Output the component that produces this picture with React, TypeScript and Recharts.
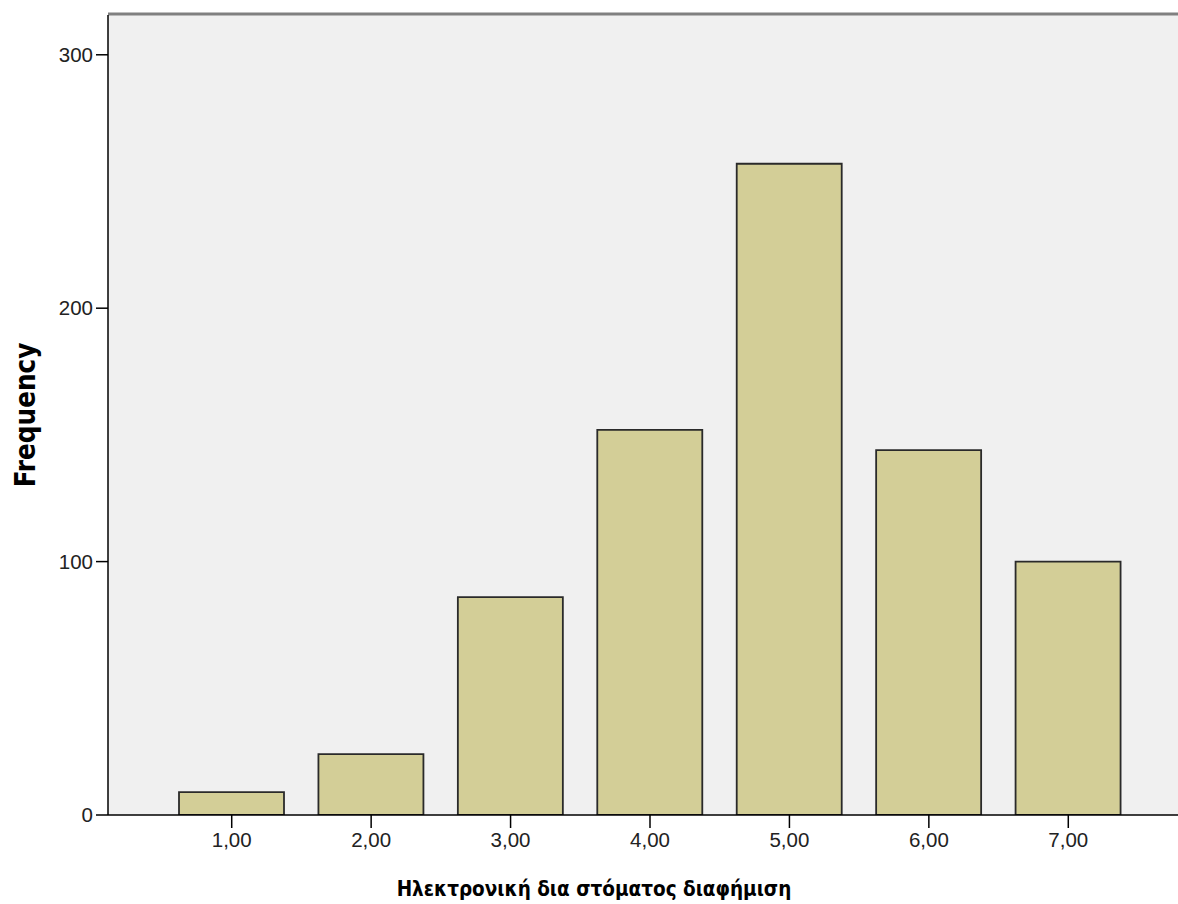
import React from "react";
import { BarChart, Bar, XAxis, YAxis, Label } from "recharts";

const categories = ["1,00", "2,00", "3,00", "4,00", "5,00", "6,00", "7,00"];
const frequencies = [9, 24, 86, 152, 257, 144, 100];
const yTicks = [0, 100, 200, 300];
const xTitle = "Ηλεκτρονική δια στόματος διαφήμιση";
const yTitle = "Frequency";

const data = categories.map((c, i) => ({ name: c, value: frequencies[i] }));

const XTitle = () => (
  <text
    x={594}
    y={896}
    textAnchor="middle"
    fontFamily="'DejaVu Sans Condensed', 'DejaVu Sans'"
    fontWeight="bold"
    fontSize={20.5}
    fill="#000"
  >
    {xTitle}
  </text>
);

const YTitle = (props: any) => {
  const vb = props.viewBox || {};
  const cx = 35;
  const cy = vb.y + vb.height / 2;
  return (
    <text
      x={cx}
      y={cy}
      transform={`rotate(-90, ${cx}, ${cy})`}
      textAnchor="middle"
      fontFamily="'DejaVu Sans Condensed', 'DejaVu Sans'"
      fontWeight="bold"
      fontSize={27.5}
      fill="#000"
    >
      {yTitle}
    </text>
  );
};

export default function App() {
  return (
    <div
      style={{
        position: "absolute",
        left: 0,
        top: 0,
        width: 1178,
        height: 904,
        overflow: "hidden",
        background: "#fff",
      }}
    >
      <BarChart
        width={1192}
        height={904}
        data={data}
        margin={{ top: 15, right: 0, bottom: 0, left: 0 }}
        barCategoryGap={17}
      >
        <rect x={108} y={15} width={1084} height={800} fill="#f0f0f0" />
        <line x1={108} y1={14} x2={1192} y2={14} stroke="#808080" strokeWidth={3} />
        <XAxis
          dataKey="name"
          height={89}
          padding={{ left: 54, right: 54 }}
          tickSize={13}
          tickMargin={4}
          axisLine={{ stroke: "#000", strokeWidth: 1.5 }}
          tickLine={{ stroke: "#000", strokeWidth: 1.5 }}
          tick={{ fill: "#222", fontSize: 20.5, fontFamily: "Liberation Sans" }}
        >
          <Label content={<XTitle />} />
        </XAxis>
        <YAxis
          width={108}
          domain={[0, 315.7]}
          ticks={yTicks}
          allowDataOverflow
          tickSize={12}
          tickMargin={3}
          axisLine={{ stroke: "#000", strokeWidth: 1.5 }}
          tickLine={{ stroke: "#000", strokeWidth: 1.5 }}
          tick={{ fill: "#222", fontSize: 20.5, fontFamily: "Liberation Sans" }}
        >
          <Label content={<YTitle />} />
        </YAxis>
        <Bar
          dataKey="value"
          fill="#d3ce97"
          stroke="#2a2a2a"
          strokeWidth={1.8}
          isAnimationActive={false}
        />
      </BarChart>
    </div>
  );
}
